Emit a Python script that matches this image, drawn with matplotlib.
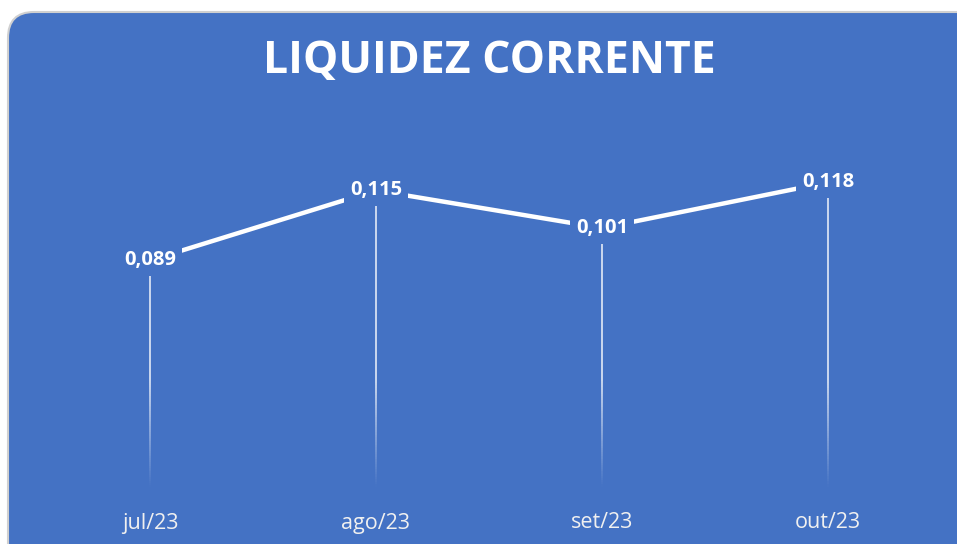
import matplotlib
matplotlib.use("Agg")
import matplotlib.pyplot as plt
from matplotlib.patches import FancyBboxPatch
import numpy as np

categories = ["jul/23", "ago/23", "set/23", "out/23"]
values = [0.089, 0.115, 0.101, 0.118]
labels = ["0,089", "0,115", "0,101", "0,118"]
title = "LIQUIDEZ CORRENTE"

W, H = 957, 544
BLUE = "#4472C4"
fig = plt.figure(figsize=(W/100, H/100), dpi=100)
fig.patch.set_facecolor("white")

# card background (inch coordinates)
card = FancyBboxPatch((0.08, (H - 580) / 100), 10.0, (580 - 12) / 100,
                      boxstyle="round,pad=0,rounding_size=0.26",
                      transform=fig.dpi_scale_trans, facecolor=BLUE,
                      edgecolor="#d0d0d0", linewidth=1.5, zorder=-5)
fig.patches.append(card)

ax = fig.add_axes([37/W, 1 - 500/H, (941-37)/W, 350/H])
ax.set_zorder(2)
ax.set_facecolor("none")
x = np.arange(len(categories))
ax.set_xlim(-0.5, len(categories) - 0.5)
ax.set_ylim(0, 0.13)

# drop lines with fading gradient
for xi, v in zip(x, values):
    n = 120
    ys = np.linspace(v, 0.005, n + 1)
    for i in range(n):
        ymid = (ys[i] + ys[i+1]) / 2
        a = np.clip((ymid - 0.005) / 0.04, 0, 1) * 0.85
        ax.plot([xi, xi], [ys[i], ys[i+1]], color="white", alpha=a,
                lw=1.2, solid_capstyle="butt", zorder=1)

ax.plot(x, values, color="white", lw=3.2, zorder=2, solid_capstyle="round")

for xi, v, lab in zip(x, values, labels):
    ax.text(xi, v, lab, ha="center", va="center", color="white",
            fontsize=14.5, fontweight="bold", family="Open Sans", zorder=4,
            bbox=dict(boxstyle="square,pad=0.3", facecolor=BLUE, edgecolor="none"))

ax.set_xticks(x)
ax.set_xticklabels(categories, color="#f0f0f0", fontsize=15.5, family="Open Sans")
ax.tick_params(axis="x", length=0, pad=9)
ax.set_yticks([])
for s in ax.spines.values():
    s.set_visible(False)

fig.text(489/W, 1 - 62/H, title, ha="center", va="center", color="white",
         fontsize=32, fontweight="bold", family="Open Sans", zorder=3)

fig.savefig("out.png", dpi=100, facecolor=fig.get_facecolor())
